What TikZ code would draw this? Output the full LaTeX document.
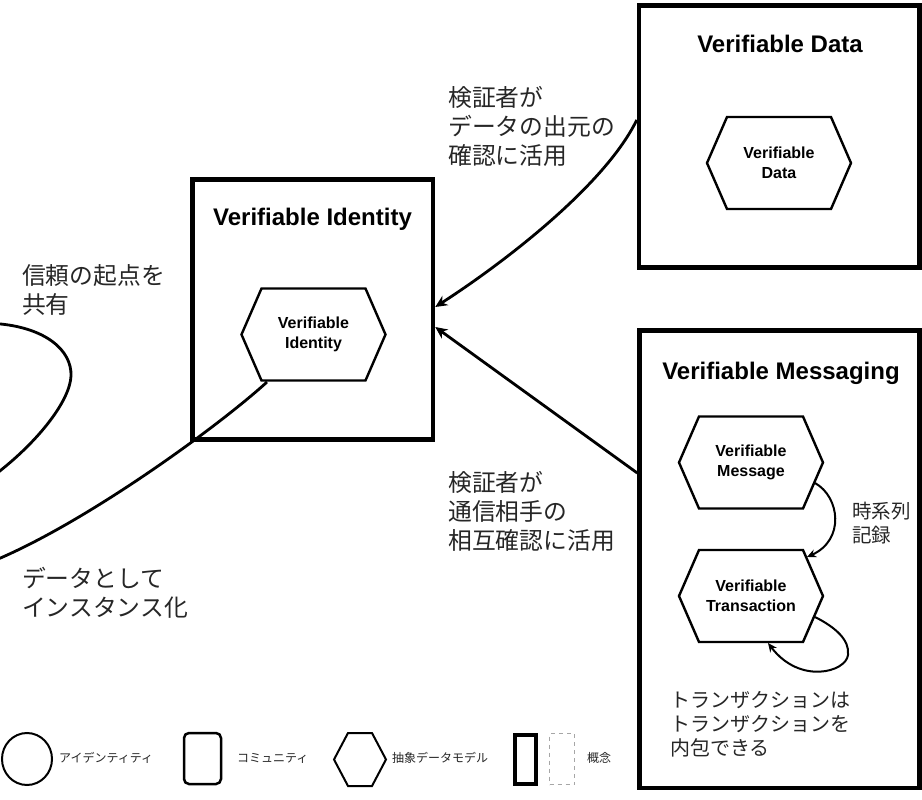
\documentclass[tikz,border=0pt]{standalone}
\usepackage{fontspec}
\setmainfont{Liberation Sans}
\newfontfamily\jp{Noto Sans CJK JP}
\usetikzlibrary{arrows.meta,shapes.geometric}
\tikzset{
  conceptbox/.style={draw, line width=4.5pt, inner sep=0pt},
  boxtitle/.style={font=\bfseries\fontsize{24}{28}\selectfont, anchor=base, inner sep=0pt},
  hexnode/.style={minimum width=144pt, minimum height=92pt, inner sep=0pt, outer sep=0pt,
    align=center, font=\bfseries\fontsize{16}{19.5}\selectfont},
  hexline/.style={draw, line width=2.4pt, line join=miter},
  jlabel/.style={font=\jp\fontsize{23.8}{29}\selectfont, align=left, anchor=west, inner sep=0pt, text=black!85},
  jsmall/.style={font=\jp\fontsize{20}{24}\selectfont, align=left, anchor=west, inner sep=0pt, text=black!85},
  legendtext/.style={font=\jp\fontsize{12}{14}\selectfont, anchor=west, inner sep=0pt, text=black!85},
  biglink/.style={draw, line width=2.8pt, -{Stealth[length=12pt,width=11pt]}},
  plainlink/.style={draw, line width=2.8pt},
  smalllink/.style={draw, line width=2pt, -{Stealth[length=9pt,width=8pt]}},
}
\newcommand{\hexoutline}[3][hexline]{%
  \path[#1] (#2.west) -- ([xshift=#3]#2.north west) -- ([xshift=-#3]#2.north east)
    -- (#2.east) -- ([xshift=-#3]#2.south east) -- ([xshift=#3]#2.south west) -- cycle;}
\begin{document}
\begin{tikzpicture}[x=1pt,y=-1pt]
\useasboundingbox (0,0) rectangle (922,800);
\begin{scope}
\clip (0,0) rectangle (922,800);

% concept boxes
\node[conceptbox, minimum width=240.5pt, minimum height=260pt] (vibox) at (312.75,309.5) {};
\node[conceptbox, minimum width=280.5pt, minimum height=262pt] (vdbox) at (779.25,136.5) {};
\node[conceptbox, minimum width=280pt, minimum height=457.5pt] (vmbox) at (779.5,559.25) {};

% titles
\node[boxtitle] (vititle) at (312.5,225) {Verifiable Identity};
\node[boxtitle] (vdtitle) at (780,53) {Verifiable Data};
\node[boxtitle] (vmtitle) at (781,379) {Verifiable Messaging};

% hexagons
\node[hexnode] (vi) at (313.5,334.5) {Verifiable\\Identity};
\hexoutline{vi}{20pt}
\node[hexnode] (vd) at (779,163) {Verifiable\\Data};
\hexoutline{vd}{20pt}
\node[hexnode] (vmsg) at (751,462.5) {Verifiable\\Message};
\hexoutline{vmsg}{20pt}
\node[hexnode] (vtx) at (751,596) {Verifiable\\Transaction};
\hexoutline{vtx}{20pt}

% partially visible identity shape on the left
\draw[line width=2.8pt] (-5,323.5) .. controls (45,327) and (72,350) .. (71,376)
  .. controls (70,400) and (40,440) .. (-4,474);

% connectors
\path[biglink] ([yshift=16.5pt]vdbox.west) .. controls (605,185) and (505,262) .. ([yshift=2.5pt]vibox.east);
\path[biglink] ([yshift=86.25pt]vmbox.west) -- ([yshift=-17.5pt]vibox.east);
\coordinate (idoff) at (-3,559.5);
\path[plainlink] ([xshift=-46.5pt,yshift=-47.5pt]vi.center) .. controls (220,425) and (90,520) .. (idoff);
\path[smalllink] ([xshift=64pt,yshift=-20.5pt]vmsg.center) .. controls (840,497) and (845,540) .. ([xshift=56pt,yshift=39pt]vtx.center);
\path[smalllink] ([xshift=64pt,yshift=-21pt]vtx.center) .. controls (835,627) and (850,640) .. (848,655)
  .. controls (846,672) and (800,685) .. ([xshift=17pt,yshift=-47pt]vtx.center);

% labels
\node[jlabel] (ltrust) at (22,290) {信頼の起点を\\共有};
\node[jlabel] (linst) at (22,592.5) {データとして\\インスタンス化};
\node[jlabel] (ldata) at (448,126.5) {検証者が\\データの出元の\\確認に活用};
\node[jlabel] (lmsg) at (448,511) {検証者が\\通信相手の\\相互確認に活用};
\node[jsmall, font=\jp\fontsize{19.5}{24}\selectfont] (lseq) at (852,523.5) {時系列\\記録};
\node[jsmall] (lnest) at (670,724) {トランザクションは\\トランザクションを\\内包できる};

% legend
\node[draw, ellipse, line width=2pt, minimum width=50pt, minimum height=52pt, inner sep=0pt] (lgid) at (27,759) {};
\node[legendtext] (lgidt) at (59,758) {アイデンティティ};
\node[draw, rounded corners=5pt, line width=2.5pt, minimum width=37pt, minimum height=51pt, inner sep=0pt] (lgcom) at (202.5,758.5) {};
\node[legendtext] (lgcomt) at (237,758) {コミュニティ};
\node[minimum width=52pt, minimum height=53pt, inner sep=0pt, outer sep=0pt] (lghex) at (360,759.5) {};
\hexoutline[hexline, line width=2pt]{lghex}{14pt}
\node[legendtext] (lghext) at (392,758) {抽象データモデル};
\node[draw, line width=4pt, minimum width=21pt, minimum height=49pt, inner sep=0pt] (lgbold) at (525.5,759.5) {};
\node[draw, gray!70, dashed, dash pattern=on 4pt off 4pt, line width=1.5pt, minimum width=25pt, minimum height=51pt, inner sep=0pt] (lgdash) at (562,759) {};
\node[legendtext] (lgconc) at (587,758) {概念};
\end{scope}
\end{tikzpicture}
\end{document}
